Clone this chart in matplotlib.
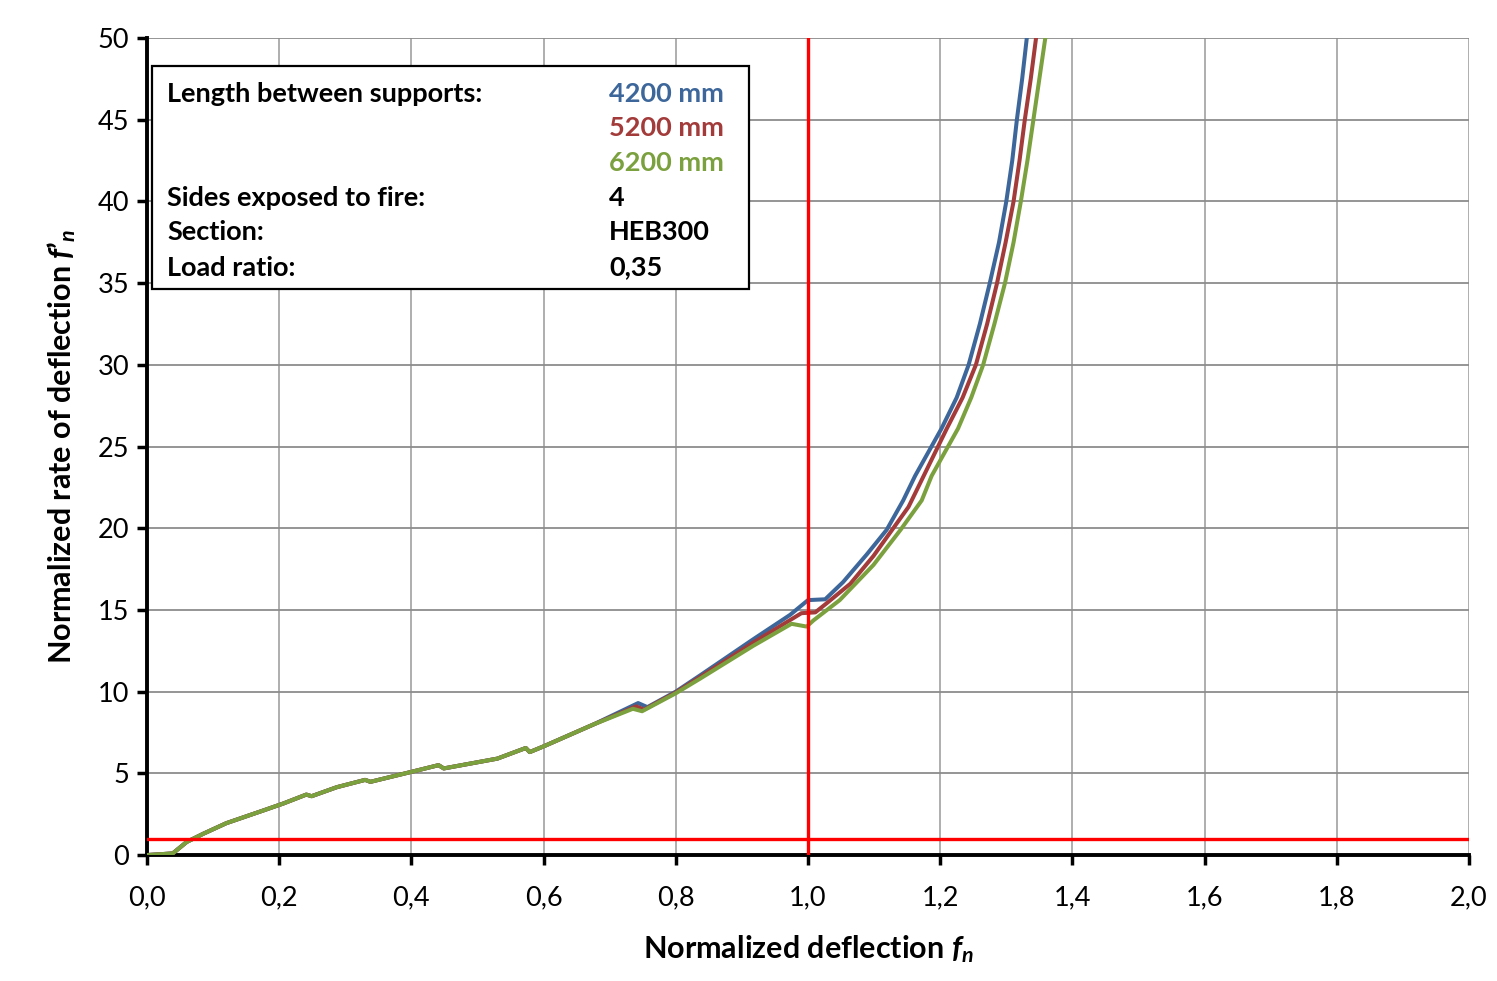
import numpy as np
import matplotlib.pyplot as plt

plt.rcParams['font.family'] = ['Lato', 'DejaVu Sans']
plt.rcParams['mathtext.fontset'] = 'custom'
plt.rcParams['mathtext.it'] = 'Lato:italic:bold'
plt.rcParams['mathtext.rm'] = 'Lato:bold'

# shared low part of the three curves
fn_common = [0.0, 0.02, 0.039, 0.06, 0.085, 0.12, 0.174, 0.206, 0.241, 0.249,
             0.287, 0.330, 0.338, 0.401, 0.441, 0.449, 0.530, 0.573, 0.579,
             0.600, 0.676]
fpn_common = [0.0, 0.05, 0.1, 0.8, 1.3, 1.95, 2.7, 3.15, 3.7, 3.6,
              4.15, 4.6, 4.48, 5.1, 5.5, 5.3, 5.9, 6.55, 6.3,
              6.65, 8.0]

fn_4200 = [0.743, 0.757, 0.80, 0.837, 0.917, 0.973, 1.0, 1.026, 1.053, 1.089,
           1.119, 1.144, 1.162, 1.202, 1.225, 1.243, 1.26, 1.275, 1.289, 1.300,
           1.309, 1.316, 1.324, 1.331, 1.34]
fpn_4200 = [9.3, 9.05, 10.0, 11.0, 13.2, 14.7, 15.6, 15.65, 16.7, 18.4,
            19.9, 21.7, 23.2, 26.1, 28.0, 30.0, 32.5, 35.0, 37.5, 40.0,
            42.5, 45.0, 47.5, 50.0, 53.0]

fn_5200 = [0.740, 0.752, 0.80, 0.837, 0.917, 0.99, 1.011, 1.028, 1.064, 1.099,
           1.152, 1.175, 1.21, 1.234, 1.254, 1.271, 1.286, 1.299, 1.311, 1.320,
           1.328, 1.337, 1.345, 1.353]
fpn_5200 = [9.1, 8.9, 9.95, 10.9, 13.0, 14.8, 14.85, 15.4, 16.6, 18.3,
            21.3, 23.2, 26.1, 28.0, 30.0, 32.5, 35.0, 37.5, 40.0, 42.5,
            45.0, 47.5, 50.0, 53.0]

fn_6200 = [0.735, 0.749, 0.80, 0.837, 0.917, 0.975, 0.998, 1.008, 1.048, 1.099,
           1.14, 1.172, 1.187, 1.227, 1.247, 1.265, 1.282, 1.298, 1.311, 1.322,
           1.332, 1.341, 1.350, 1.359, 1.367]
fpn_6200 = [8.95, 8.8, 9.9, 10.8, 12.8, 14.15, 13.98, 14.35, 15.6, 17.75,
            19.9, 21.7, 23.2, 26.1, 28.0, 30.0, 32.5, 35.0, 37.5, 40.0,
            42.5, 45.0, 47.5, 50.0, 53.0]

lengths = ['4200 mm', '5200 mm', '6200 mm']
colors = ['#3D679A', '#A23B3A', '#7BA03E']

info_labels = ['Sides exposed to fire:', 'Section:', 'Load ratio:']
info_values = ['4', 'HEB300', '0,35']

fig = plt.figure(figsize=(14.97, 9.81), dpi=100)
ax = fig.add_axes([0.0982, 0.1284, 0.8831, 0.8329])

series = [(fn_4200, fpn_4200), (fn_5200, fpn_5200), (fn_6200, fpn_6200)]
for (xs, ys), c in zip(series, colors):
    ax.plot(fn_common + xs, fpn_common + ys, color=c, lw=2.9,
            solid_joinstyle='round', solid_capstyle='round', zorder=3)

ax.axhline(1, color='#FF0000', lw=2.4, zorder=4)
ax.axvline(1, color='#FF0000', lw=2.4, zorder=4)

ax.set_xlim(0, 2.0)
ax.set_ylim(0, 50)
ax.set_xticks(np.arange(0, 2.01, 0.2))
ax.set_yticks(np.arange(0, 51, 5))
ax.set_xticklabels([f'{v:.1f}'.replace('.', ',') for v in np.arange(0, 2.01, 0.2)])
ax.grid(True, color='#8C8C8C', lw=1.3)
ax.xaxis.grid(True, color='#A8A8A8')
ax.set_axisbelow(True)

for s in ['top', 'right']:
    ax.spines[s].set_visible(False)
for s in ['left', 'bottom']:
    ax.spines[s].set_linewidth(2.8)
ax.tick_params(axis='both', labelsize=19.5, width=2.5, length=7, direction='out')
ax.tick_params(axis='x', pad=15)
ax.tick_params(axis='y', pad=6)

ax.set_xlabel(r"Normalized deflection $f_n$", fontsize=22, fontweight='bold', labelpad=16)
ax.set_ylabel("Normalized rate of deflection $f’_n$", fontsize=22, fontweight='bold', labelpad=14)

# info box
box = plt.Rectangle((0.004, 0.693), 0.451, 0.273, transform=ax.transAxes,
                    facecolor='white', edgecolor='black', lw=1.6, zorder=5)
ax.add_patch(box)
x_lab, x_val = 0.0152, 0.3497
row_y = [0.932, 0.890, 0.847, 0.804, 0.762, 0.719]
kw = dict(transform=ax.transAxes, fontsize=19.5, fontweight='bold', va='center', zorder=6)
ax.text(x_lab, row_y[0], 'Length between supports:', **kw)
for i, (lab, c) in enumerate(zip(lengths, colors)):
    ax.text(x_val, row_y[i], lab, color=c, **kw)
for i, (lab, val) in enumerate(zip(info_labels, info_values)):
    ax.text(x_lab, row_y[3 + i], lab, **kw)
    ax.text(x_val, row_y[3 + i], val, **kw)

fig.savefig('out.png', dpi=100)
